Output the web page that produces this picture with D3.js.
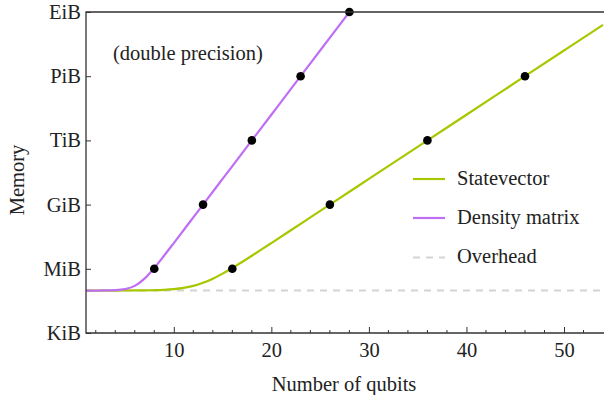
<!DOCTYPE html>
<html><head><meta charset="utf-8">
<script src="https://cdn.jsdelivr.net/npm/d3@7"></script>
<style>body{margin:0;background:#fff}svg{display:block}text{font-family:"Liberation Serif",serif;fill:#222}</style>
</head><body><svg id="c" width="604" height="395"></svg>
<script>
const svQubits = [1,2,3,4,5,6,7,8,9,10,11,12,13,14,15,16,17,18,19,20,22,24,26,30,36,40,46,50,54];
const svBytes = [100032,100064,100128,100256,100512,101024,102048,104096,108192,116384,132768,165536,231072,362144,624288,1148576,2197152,4294304,8488608,16877216,67208864,268535456,1.0738e9,1.718e10,1.0995e12,1.759e13,1.1259e15,1.8014e16,2.8823e17];
const dmQubits = [1,2,3,4,5,6,7,8,9,10,11,12,13,15,18,20,23,25,28,29];
const dmBytes = [100064,100256,101024,104096,116384,165536,362144,1148576,4294304,16877216,67208864,268535456,1.0738e9,1.718e10,1.0995e12,1.759e13,1.1259e15,1.8014e16,1.1529e18,4.61e18];
const overheadBytes = 100000;
const svMarkQubits = [16,26,36,46];
const svMarkBytes = [1048576,1073741824,1099511627776,1125899906842624];
const dmMarkQubits = [8,13,18,23,28];
const dmMarkBytes = [1048576,1073741824,1099511627776,1125899906842624,1152921504606846976];
const yTickValues = [1024,1048576,1073741824,1099511627776,1125899906842624,1152921504606846976];
const yTickLabels = ["KiB","MiB","GiB","TiB","PiB","EiB"];
const xTickValues = [10,20,30,40,50];
const seriesNames = ["Statevector","Density matrix","Overhead"];

const svg = d3.select("#c");
const L=86,R=604,T=12,B=333;
const FS=20.5;
const x = d3.scaleLinear().domain([1,54.1]).range([L,R]);
const y = d3.scaleLog().base(2).domain([1024,1152921504606846976]).range([B,T]);
const cSV="#a6c800", cDM="#bf6ef5", cOH="#d4d4d4";

const defs = svg.append("defs");
defs.append("clipPath").attr("id","clip").append("rect").attr("x",L).attr("y",T).attr("width",R-L).attr("height",B-T);
const g = svg.append("g").attr("clip-path","url(#clip)");

g.append("line").attr("x1",L).attr("x2",R).attr("y1",y(overheadBytes)).attr("y2",y(overheadBytes))
 .attr("stroke",cOH).attr("stroke-width",2).attr("stroke-dasharray","7,6");
const line = d3.line().curve(d3.curveMonotoneX);
g.append("path").attr("d",line(svQubits.map((q,i)=>[x(q),y(svBytes[i])]))).attr("fill","none").attr("stroke",cSV).attr("stroke-width",2.2);
g.append("path").attr("d",line(dmQubits.map((q,i)=>[x(q),y(dmBytes[i])]))).attr("fill","none").attr("stroke",cDM).attr("stroke-width",2.2);

const m = svg.append("g");
svMarkQubits.forEach((q,i)=>m.append("circle").attr("cx",x(q)).attr("cy",y(svMarkBytes[i])).attr("r",4.3).attr("fill","#000"));
dmMarkQubits.forEach((q,i)=>m.append("circle").attr("cx",x(q)).attr("cy",y(dmMarkBytes[i])).attr("r",4.3).attr("fill","#000"));

// axes
const xAxis = d3.axisBottom(x).tickValues(xTickValues).tickSizeInner(-6).tickSizeOuter(0).tickPadding(9.5).tickFormat(d3.format("d"));
const xg = svg.append("g").attr("transform",`translate(0,${B})`).call(xAxis);
xg.select(".domain").remove();
xg.selectAll("line").attr("stroke","#333");
xg.selectAll("text").attr("font-size",FS).attr("font-family","Liberation Serif").attr("fill","#222");
const minor = d3.range(2,54,2).filter(v=>v%10!==0);
svg.append("g").selectAll("line").data(minor).join("line").attr("x1",d=>x(d)).attr("x2",d=>x(d)).attr("y1",B).attr("y2",B-3).attr("stroke","#333");

const yAxis = d3.axisLeft(y).tickValues(yTickValues).tickSizeInner(-5).tickSizeOuter(0).tickPadding(5).tickFormat((d,i)=>yTickLabels[i]);
const yg = svg.append("g").attr("transform",`translate(${L},0)`).call(yAxis);
yg.select(".domain").remove();
yg.selectAll("line").attr("stroke","#333");
yg.selectAll("text").attr("font-size",FS).attr("font-family","Liberation Serif").attr("fill","#222");

svg.append("path").attr("d",`M${R},${T}H${L}V${B}H${R}`).attr("fill","none").attr("stroke","#333").attr("stroke-width",1.3);

svg.append("text").attr("x",344).attr("y",391).attr("text-anchor","middle").attr("font-size",FS).text("Number of qubits");
svg.append("text").attr("transform","translate(24,180) rotate(-90)").attr("text-anchor","middle").attr("font-size",FS).text("Memory");
svg.append("text").attr("x",113).attr("y",60).attr("font-size",FS).text("(double precision)");

const leg = svg.append("g");
const legY=[179,218,257.5], legC=[cSV,cDM,cOH];
seriesNames.forEach((n,i)=>{
  leg.append("line").attr("x1",413).attr("x2",445).attr("y1",legY[i]).attr("y2",legY[i]).attr("stroke",legC[i]).attr("stroke-width",2.2).attr("stroke-dasharray",i===2?"7,6":null);
  leg.append("text").attr("x",457).attr("y",legY[i]+5.5).attr("font-size",FS).text(n);
});
</script></body></html>
